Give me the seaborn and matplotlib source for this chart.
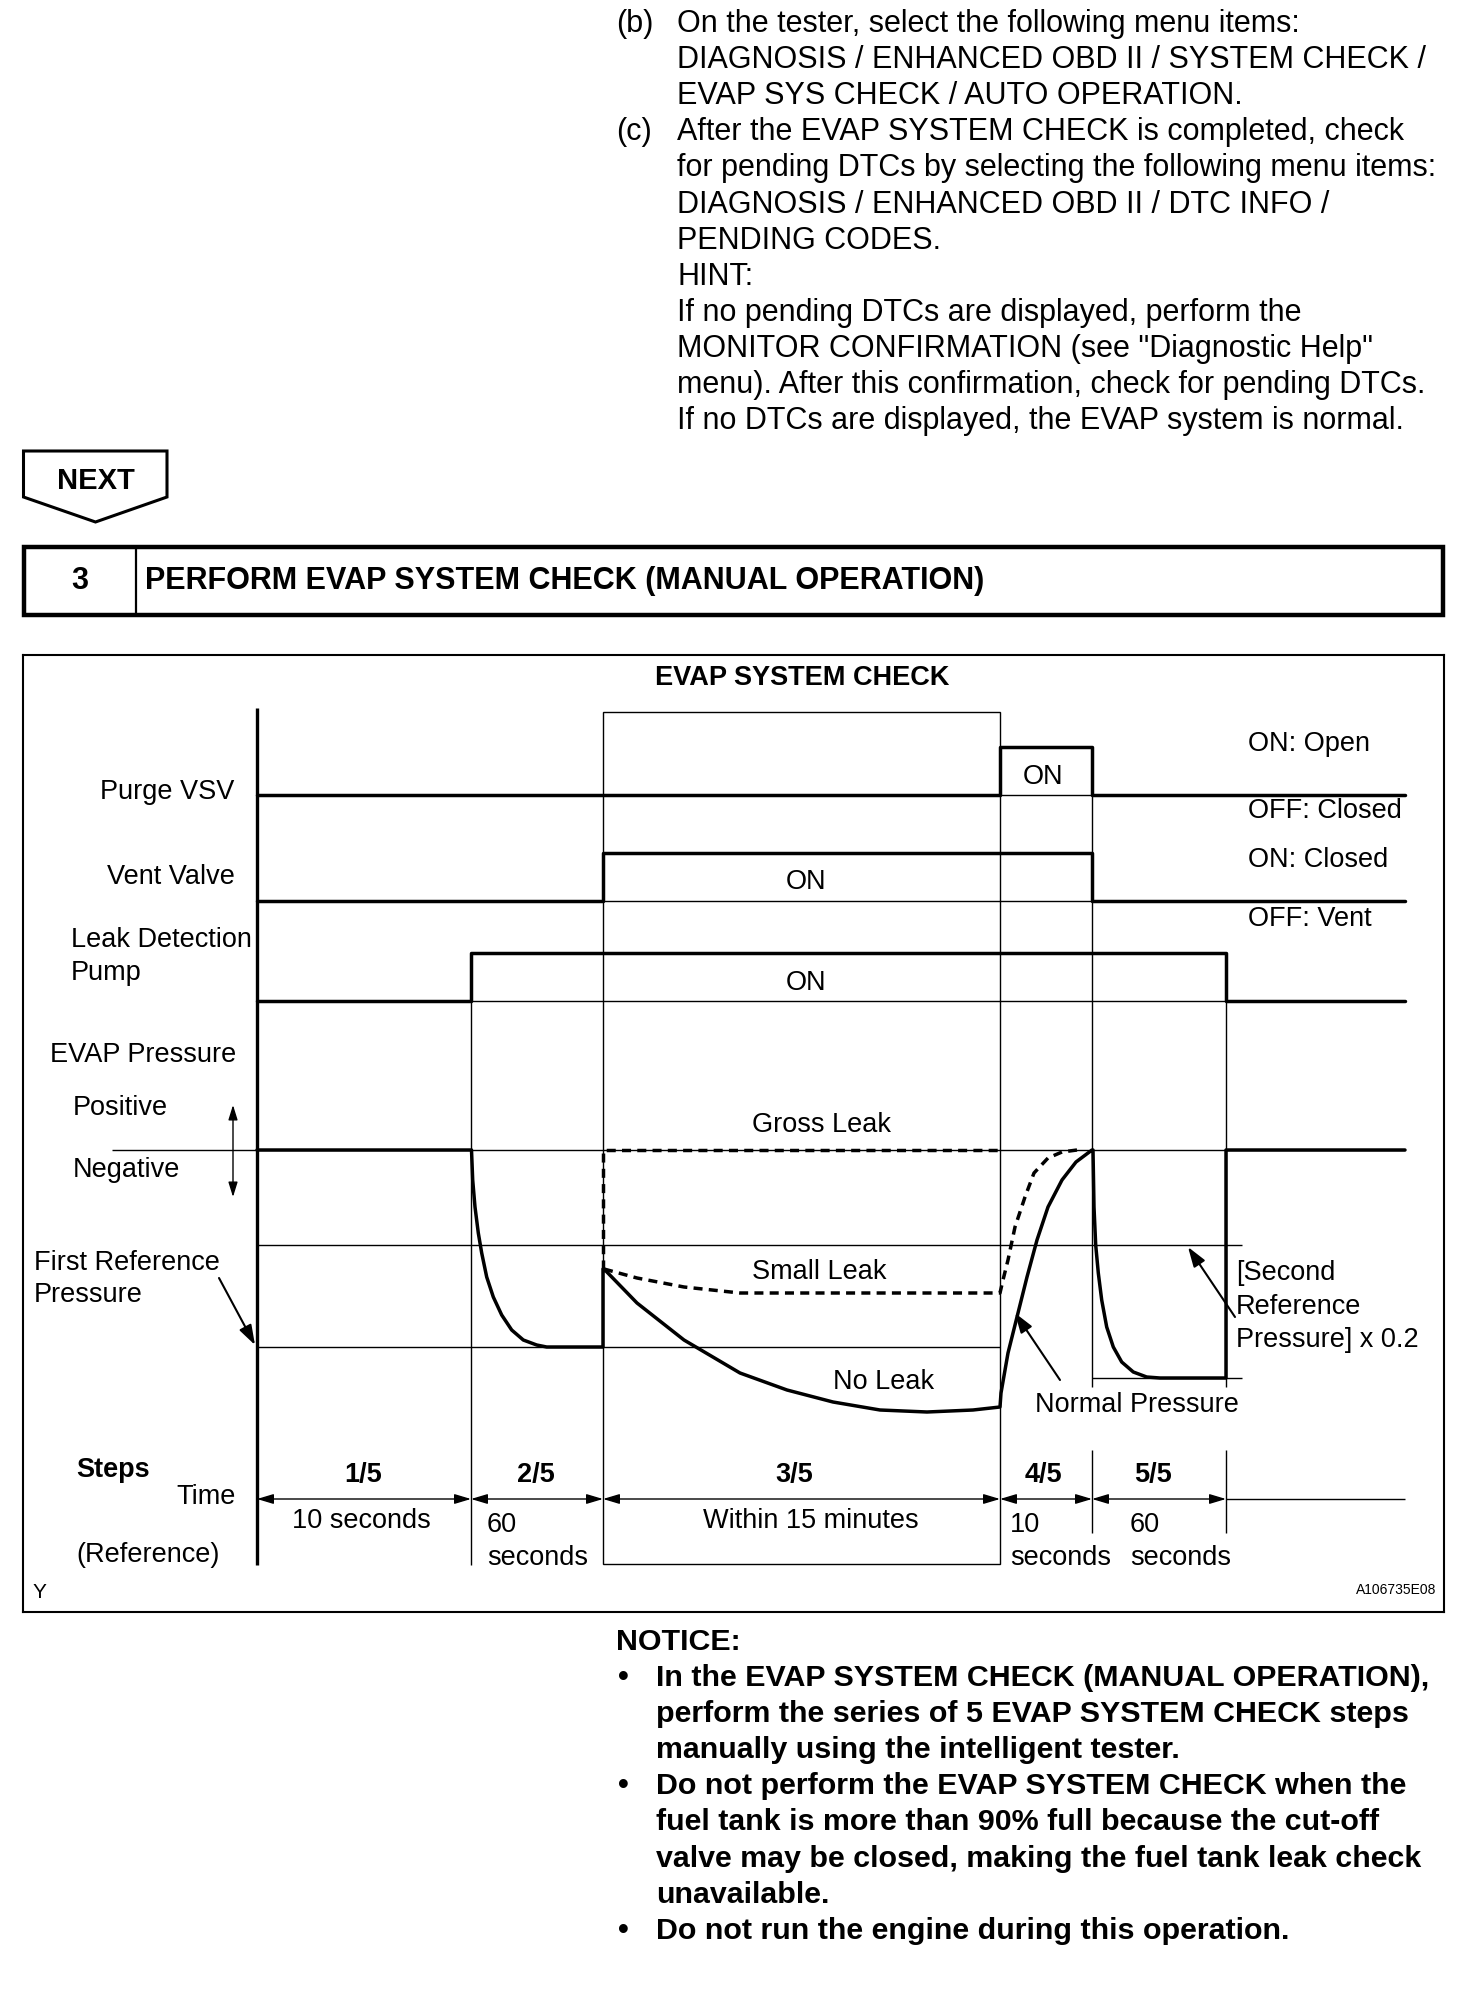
import numpy as np
import pandas as pd
import matplotlib
matplotlib.use("Agg")
import matplotlib.pyplot as plt
from matplotlib.patches import Rectangle, Polygon
import seaborn as sns

# ---------------- data (schematic units) ----------------
step_bounds = [0, 21.4, 34.6, 74.3, 83.5, 96.9]
t_end = 114.8
step_labels = ["1/5", "2/5", "3/5", "4/5", "5/5"]

purge_t = [0, 74.3, 83.5, 114.8]
purge_on = [0, 1, 0, 0]
vent_t = [0, 34.6, 83.5, 114.8]
vent_on = [0, 1, 0, 0]
pump_t = [0, 21.4, 96.9, 114.8]
pump_on = [0, 1, 0, 0]

# EVAP pressure (0 = atmospheric, negative = vacuum), normal / no-leak path
normal_t = [0, 21.45, 21.57, 21.8, 22.13, 22.47, 22.97, 23.63, 24.47, 25.47, 26.63, 27.97, 28.97,
            34.6, 34.6,
            34.7, 38.0, 42.7, 48.3, 53.0, 57.6, 62.3, 67.0, 71.6, 74.3,
            74.4, 75.1, 76.1, 77.0, 78.0, 79.1, 80.5, 81.9, 83.5,
            83.6, 83.7, 83.87, 84.13, 84.47, 84.97, 85.63, 86.47, 87.63, 88.97, 90.3,
            96.9, 96.9, 114.8]
normal_p = [0, 0, -3.0, -5.7, -8.3, -10.3, -12.7, -14.7, -16.5, -18.0, -19.0, -19.5, -19.7,
            -19.7, -11.9,
            -11.9, -15.3, -19.0, -22.3, -24.0, -25.2, -26.0, -26.2, -26.0, -25.7,
            -24.3, -20.3, -16.3, -12.7, -9.0, -5.7, -3.0, -1.2, 0,
            0, -5.7, -9.5, -12.3, -15.0, -17.7, -19.7, -21.2, -22.2, -22.7, -22.8,
            -22.8, 0, 0]
small_t = [34.7, 38.0, 42.7, 48.3, 55.0, 74.3, 74.6, 75.1, 75.8, 76.8, 77.7, 79.1, 80.5, 82.0]
small_p = [-11.9, -12.8, -13.7, -14.3, -14.3, -14.3, -13.0, -11.0, -7.7, -4.7, -2.3, -0.8, -0.2, 0]
gross_t = [34.6, 34.6, 74.3]
gross_p = [-11.9, 0, 0]

threshold_level = -9.5      # [Second Reference Pressure] x 0.2
first_ref_level = -19.7
second_ref_level = -22.8

# ---------------- figure ----------------
sns.set_theme(style="white")
plt.rcParams['font.family'] = ['Liberation Sans', 'DejaVu Sans']

W, H, DPI = 1472, 1996, 100
fig = plt.figure(figsize=(W / DPI, H / DPI), dpi=DPI)
fig.patch.set_facecolor("white")

page = fig.add_axes([0, 0, 1, 1])
page.set_xlim(0, W)
page.set_ylim(H, 0)
page.axis("off")

K = "black"
FS_TXT = 22
FS_NOTE = 21.9
FS_CH = 19.5

# top text
top_lines = [
    ("(b)", "On the tester, select the following menu items:"),
    ("", "DIAGNOSIS / ENHANCED OBD II / SYSTEM CHECK /"),
    ("", "EVAP SYS CHECK / AUTO OPERATION."),
    ("(c)", "After the EVAP SYSTEM CHECK is completed, check"),
    ("", "for pending DTCs by selecting the following menu items:"),
    ("", "DIAGNOSIS / ENHANCED OBD II / DTC INFO /"),
    ("", "PENDING CODES."),
    ("", "HINT:"),
    ("", "If no pending DTCs are displayed, perform the"),
    ("", "MONITOR CONFIRMATION (see \"Diagnostic Help\""),
    ("", "menu). After this confirmation, check for pending DTCs."),
    ("", "If no DTCs are displayed, the EVAP system is normal."),
]
for i, (lab, txt) in enumerate(top_lines):
    y = 24 + 36.1 * i
    if lab:
        page.text(616, y, lab, fontsize=FS_TXT, ha="left", va="center", color=K)
    page.text(677, y, txt, fontsize=FS_TXT, ha="left", va="center", color=K)

# NEXT pentagon
page.add_patch(Polygon([(23.5, 451), (167, 451), (167, 497), (95.5, 522), (23.5, 497)],
                       closed=True, fill=False, ec=K, lw=2.2, joinstyle="miter"))
page.text(95.5, 481, "NEXT", fontsize=21, fontweight="bold", ha="center", va="center", color=K)

# header box
page.add_patch(Rectangle((23.5, 547), 1443 - 23.5, 68, fill=False, ec=K, lw=3.2, joinstyle="miter"))
page.plot([136, 136], [547, 615], color=K, lw=1.6)
page.text(80, 581, "3", fontsize=22, fontweight="bold", ha="center", va="center", color=K)
page.text(145, 581, "PERFORM EVAP SYSTEM CHECK (MANUAL OPERATION)", fontsize=22,
          fontweight="bold", ha="left", va="center", color=K)

# notice
notice = [
    ("", "NOTICE:"),
    ("•", "In the EVAP SYSTEM CHECK (MANUAL OPERATION),"),
    ("", "perform the series of 5 EVAP SYSTEM CHECK steps"),
    ("", "manually using the intelligent tester."),
    ("•", "Do not perform the EVAP SYSTEM CHECK when the"),
    ("", "fuel tank is more than 90% full because the cut-off"),
    ("", "valve may be closed, making the fuel tank leak check"),
    ("", "unavailable."),
    ("•", "Do not run the engine during this operation."),
]
for i, (b, txt) in enumerate(notice):
    y = 1642 + 36.1 * i
    if i == 0:
        page.text(616, y, txt, fontsize=FS_NOTE, fontweight="bold", ha="left", va="center", color=K)
        continue
    if b:
        page.text(623, y, b, fontsize=FS_NOTE, fontweight="bold", ha="center", va="center", color=K)
    page.text(656, y, txt, fontsize=FS_NOTE, fontweight="bold", ha="left", va="center", color=K)

# ---------------- timing chart axes ----------------
CH_L, CH_R, CH_T, CH_B = 23, 1444, 655, 1612
X0, Y0, SC = 257, 1150, 10.0
ax = fig.add_axes([CH_L / W, 1 - CH_B / H, (CH_R - CH_L) / W, (CH_B - CH_T) / H])
ax.set_facecolor("none")
ax.set_xlim((CH_L - X0) / SC, (CH_R - X0) / SC)
ax.set_ylim(-(CH_B - Y0) / SC, -(CH_T - Y0) / SC)
ax.set_xticks([])
ax.set_yticks([])
for s in ax.spines.values():
    s.set_color(K)
    s.set_linewidth(1.5)

THICK, THIN = 2.5, 1.0
lane_base = {"purge": 35.5, "vent": 24.9, "pump": 14.9}
AMP = 4.85
y_top, y_bot = 44.2, -41.5

# main axis
ax.vlines(0, y_bot, y_top, color=K, lw=2.4)
# step 3 box
ax.add_patch(Rectangle((step_bounds[2], -41.4), step_bounds[3] - step_bounds[2], 43.8 + 41.4,
                       fill=False, ec=K, lw=THIN))
# boundary lines
hi_pump = lane_base["pump"] + AMP
hi_purge = lane_base["purge"] + AMP
ax.vlines(step_bounds[1], y_bot, hi_pump, color=K, lw=THIN)
ax.vlines(step_bounds[4], -23.7, hi_purge, color=K, lw=THIN)
ax.vlines(step_bounds[5], -23.7, hi_pump, color=K, lw=THIN)
ax.vlines([step_bounds[4], step_bounds[5]], -38.3, -30.0, color=K, lw=THIN)

# signal lanes
for key, tt, st in [("purge", purge_t, purge_on), ("vent", vent_t, vent_on), ("pump", pump_t, pump_on)]:
    base = lane_base[key]
    ax.hlines(base, 0, t_end, color=K, lw=THIN)
    df = pd.DataFrame({"t": tt, "v": [base + AMP * s for s in st]})
    sns.lineplot(data=df, x="t", y="v", ax=ax, color=K, lw=THICK, drawstyle="steps-post",
                 sort=False, estimator=None, legend=False)

# pressure reference lines
ax.hlines(0, -14.5, t_end, color=K, lw=THIN)
ax.hlines(threshold_level, 0, 98.5, color=K, lw=THIN)
ax.hlines(first_ref_level, 0, step_bounds[3], color=K, lw=THIN)
ax.hlines(second_ref_level, step_bounds[4], 98.5, color=K, lw=THIN)

# pressure curves
sns.lineplot(x=normal_t, y=normal_p, ax=ax, color=K, lw=THICK, sort=False, estimator=None, legend=False)
sns.lineplot(x=small_t, y=small_p, ax=ax, color=K, lw=THICK, sort=False, estimator=None,
             legend=False, linestyle=(0, (2.6, 1.8)))
sns.lineplot(x=gross_t, y=gross_p, ax=ax, color=K, lw=THICK, sort=False, estimator=None,
             legend=False, linestyle=(0, (2.6, 1.8)))

# positive / negative double arrow
ax.annotate("", xy=(-2.4, 4.5), xytext=(-2.4, -4.7),
            arrowprops=dict(arrowstyle="<|-|>,head_length=0.45,head_width=0.14", mutation_scale=20,
                            lw=1.0, color=K, shrinkA=0, shrinkB=0))
# callout arrows
call = dict(arrowstyle="-|>,head_length=0.6,head_width=0.2", mutation_scale=20,
            lw=1.5, color=K, shrinkA=0, shrinkB=0)
ax.annotate("", xy=(-0.2, -19.5), xytext=(-3.8, -12.8), arrowprops=call)
ax.annotate("", xy=(75.8, -16.3), xytext=(80.3, -23.0), arrowprops=call)
ax.annotate("", xy=(93.1, -9.7), xytext=(97.8, -16.7), arrowprops=call)

# time dimension arrows
y_time = -34.9
for a, b in zip(step_bounds[:-1], step_bounds[1:]):
    ax.annotate("", xy=(a, y_time), xytext=(b, y_time),
                arrowprops=dict(arrowstyle="<|-|>,head_length=0.5,head_width=0.15", mutation_scale=20,
                                lw=1.0, color=K, shrinkA=0, shrinkB=0))
ax.hlines(y_time, step_bounds[-1], t_end, color=K, lw=1.0)

# ---------------- chart text (page pixel coords) ----------------
def t(x, y, s, ha="left", fs=FS_CH, bold=False):
    page.text(x, y, s, fontsize=fs, ha=ha, va="center", color=K,
              fontweight="bold" if bold else "normal", zorder=5)

t(802, 678, "EVAP SYSTEM CHECK", ha="center", bold=True)
t(234, 792, "Purge VSV", ha="right")
t(235, 877, "Vent Valve", ha="right")
t(71, 940, "Leak Detection")
t(71, 973, "Pump")
t(50, 1055, "EVAP Pressure")
t(73, 1108, "Positive")
t(73, 1170, "Negative")
t(34, 1263, "First Reference")
t(34, 1295, "Pressure")
t(76, 1470, "Steps", bold=True)
t(236, 1497, "Time", ha="right")
t(76, 1555, "(Reference)")
t(33, 1593, "Y", fs=15)

t(1248, 744, "ON: Open")
t(1248, 811, "OFF: Closed")
t(1248, 860, "ON: Closed")
t(1248, 919, "OFF: Vent")
t(1043, 777, "ON", ha="center")
t(806, 882, "ON", ha="center")
t(806, 983, "ON", ha="center")

t(752, 1125, "Gross Leak")
t(752, 1272, "Small Leak")
t(833, 1382, "No Leak")
t(1035, 1405, "Normal Pressure")
t(1236, 1273, "[Second")
t(1236, 1307, "Reference")
t(1236, 1340, "Pressure] x 0.2")

for cx, lab in zip([363, 536, 794, 1043, 1153], step_labels):
    t(cx, 1475, lab, ha="center", bold=True)
t(361, 1521, "10 seconds", ha="center")
t(811, 1521, "Within 15 minutes", ha="center")
for lx in [487, 1010, 1130]:
    t(lx, 1525, "10" if lx == 1010 else "60")
    t(lx, 1558, "seconds")
t(1436, 1590, "A106735E08", ha="right", fs=10)

fig.savefig("out.png", dpi=DPI, facecolor="white")
